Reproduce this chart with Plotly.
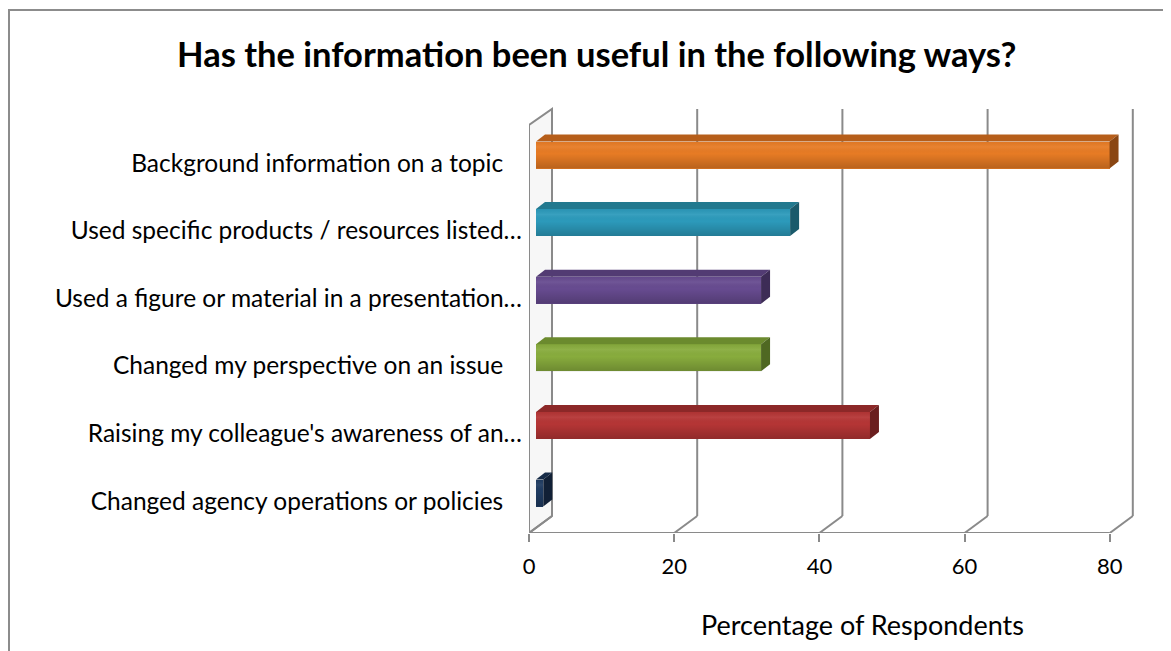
import plotly.graph_objects as go

# ---------------- data ----------------
categories = [
    "Background information on a topic",
    "Used specific products / resources listed…",
    "Used a figure or material in a presentation…",
    "Changed my perspective on an issue",
    "Raising my colleague's awareness of an…",
    "Changed agency operations or policies",
]
values = [79, 35, 31, 31, 46, 1]
x_ticks = [0, 20, 40, 60, 80]
face_colors = ["#E77B24", "#2C9ABB", "#674B90", "#88AC3D", "#B53535", "#1F3B61"]
top_colors = ["#B65E1A", "#22798F", "#523B73", "#6B8A2E", "#8C2828", "#172C48"]
side_colors = ["#8A4613", "#1A5A6B", "#3D2C56", "#4F6822", "#6A1E1E", "#112036"]
title_text = "Has the information been useful in the following ways?"
x_title = "Percentage of Respondents"

# ---------------- geometry (target pixels, page has an 8px body margin) ----------------
OFF = 8
W, H = 1171, 651
L, R_EDGE = 529 - OFF, 1145 - OFF     # plot area left/right pixels
T, B_EDGE = 100 - OFF, 533 - OFF      # plot area top/bottom (bottom = front floor)
PX_X = 7.26                           # pixels per percentage point
PX_Y = 67.6                           # pixels per category step
Y0_PIX = 493 - OFF                    # pixel of the lowest category centre

xmax = (R_EDGE - L) / PX_X
y_top = (Y0_PIX - T) / PX_Y
y_floor = -(B_EDGE - Y0_PIX) / PX_Y

DX = 23 / PX_X                 # depth offset of the back wall
DY = 17 / PX_Y
wall_top_front = (Y0_PIX - (125 - OFF)) / PX_Y
wall_top_back = (Y0_PIX - (109 - OFF)) / PX_Y

BX0 = 7 / PX_X                 # bar front face start (depth position)
BDX = 9 / PX_X                 # bar depth
BDY = 7 / PX_Y
BH = 27 / PX_Y                 # bar thickness
LABEL_SHIFT = 8 / PX_Y

n = len(categories)
ypos = [n - 1 - i for i in range(n)]

GRID = "#8A8A8A"
FONT = "Lato"


def path(xs, ys, close=False):
    s = "M " + " L ".join(f"{x},{y}" for x, y in zip(xs, ys))
    return s + (" Z" if close else "")


shapes = []
# side wall
shapes.append(dict(type="path", xref="x", yref="y", layer="below",
                   path=path([0, 0, DX, DX], [y_floor, wall_top_front, wall_top_back, y_floor + DY], True),
                   fillcolor="#F7F7F7", line=dict(color=GRID, width=2)))
# back gridlines
for t in x_ticks[1:]:
    shapes.append(dict(type="line", xref="x", yref="y", layer="below",
                       x0=t + DX, x1=t + DX, y0=y_floor + DY, y1=wall_top_back,
                       line=dict(color=GRID, width=2)))
# floor: front edge + diagonals
shapes.append(dict(type="line", xref="x", yref="y", layer="below",
                   x0=x_ticks[0], x1=x_ticks[-1], y0=y_floor, y1=y_floor,
                   line=dict(color=GRID, width=2)))
for t in x_ticks:
    shapes.append(dict(type="line", xref="x", yref="y", layer="below",
                       x0=t, x1=t + DX, y0=y_floor, y1=y_floor + DY,
                       line=dict(color=GRID, width=2)))

fig = go.Figure()

# bars: front faces
fig.add_trace(go.Bar(
    x=values, y=ypos, base=BX0, orientation="h", width=BH,
    marker=dict(color=face_colors, line=dict(width=0)),
    showlegend=False, hovertemplate="%{x}<extra></extra>"))

# bars: shading, top and side faces
for v, yc, tc, sc in zip(values, ypos, top_colors, side_colors):
    xe = BX0 + v
    yt = yc + BH / 2
    yb = yc - BH / 2
    fig.add_trace(go.Scatter(
        x=[BX0, xe, xe, BX0, BX0], y=[yb, yb, yt, yt, yb],
        mode="lines", fill="toself", line=dict(width=0, color="rgba(0,0,0,0)"),
        fillgradient=dict(type="vertical",
                          colorscale=[[0, "rgba(0,0,0,0.20)"], [0.55, "rgba(0,0,0,0.0)"],
                                      [0.8, "rgba(255,255,255,0.06)"], [1, "rgba(0,0,0,0.04)"]]),
        hoverinfo="skip", showlegend=False))
    fig.add_trace(go.Scatter(
        x=[BX0, xe, xe + BDX, BX0 + BDX, BX0],
        y=[yt, yt, yt + BDY, yt + BDY, yt],
        mode="lines", fill="toself", fillcolor=tc, line=dict(width=0, color=tc),
        hoverinfo="skip", showlegend=False))
    fig.add_trace(go.Scatter(
        x=[xe, xe + BDX, xe + BDX, xe, xe],
        y=[yb, yb + BDY, yt + BDY, yt, yb],
        mode="lines", fill="toself", fillcolor=sc, line=dict(width=0, color=sc),
        hoverinfo="skip", showlegend=False))

ticktext = [c if c.endswith("…") else c + "\u00a0\u00a0\u00a0" for c in categories]

plot_w = R_EDGE - L
plot_h = B_EDGE - T


def paper_x(px):
    return (px - OFF - L) / plot_w


def paper_y(py):
    return (B_EDGE - (py - OFF)) / plot_h


shapes.append(dict(type="rect", xref="paper", yref="paper",
                   x0=paper_x(9), x1=paper_x(1200), y0=paper_y(700), y1=paper_y(10),
                   line=dict(color="#8C8C8C", width=2), fillcolor="rgba(0,0,0,0)",
                   layer="below"))

fig.update_layout(
    width=W, height=H,
    margin=dict(l=L, r=W - R_EDGE, t=T, b=H - B_EDGE, pad=0),
    paper_bgcolor="white", plot_bgcolor="white",
    font=dict(family=FONT, color="#000000"),
    bargap=0,
    xaxis=dict(range=[0, xmax], tickvals=x_ticks, ticks="outside", ticklen=8,
               tickcolor=GRID, tickwidth=2, showgrid=False, zeroline=False,
               showline=False, tickfont=dict(size=22, family=FONT),
               ticklabelstandoff=6, fixedrange=True),
    yaxis=dict(range=[y_floor, y_top], tickvals=[y - LABEL_SHIFT for y in ypos],
               ticktext=ticktext, ticks="", showgrid=False, zeroline=False,
               showline=False, tickfont=dict(size=24.5, family=FONT),
               ticklabelstandoff=6, fixedrange=True),
    annotations=[
        dict(text="<b>" + title_text + "</b>", x=paper_x(596), y=paper_y(54),
             xref="paper", yref="paper", showarrow=False, xanchor="center",
             yanchor="middle", font=dict(size=34.5, family=FONT)),
        dict(text=x_title, x=paper_x(862), y=paper_y(624),
             xref="paper", yref="paper", showarrow=False, xanchor="center",
             yanchor="middle", font=dict(size=27, family=FONT)),
    ],
    shapes=shapes,
)

fig.write_html("out.html")
